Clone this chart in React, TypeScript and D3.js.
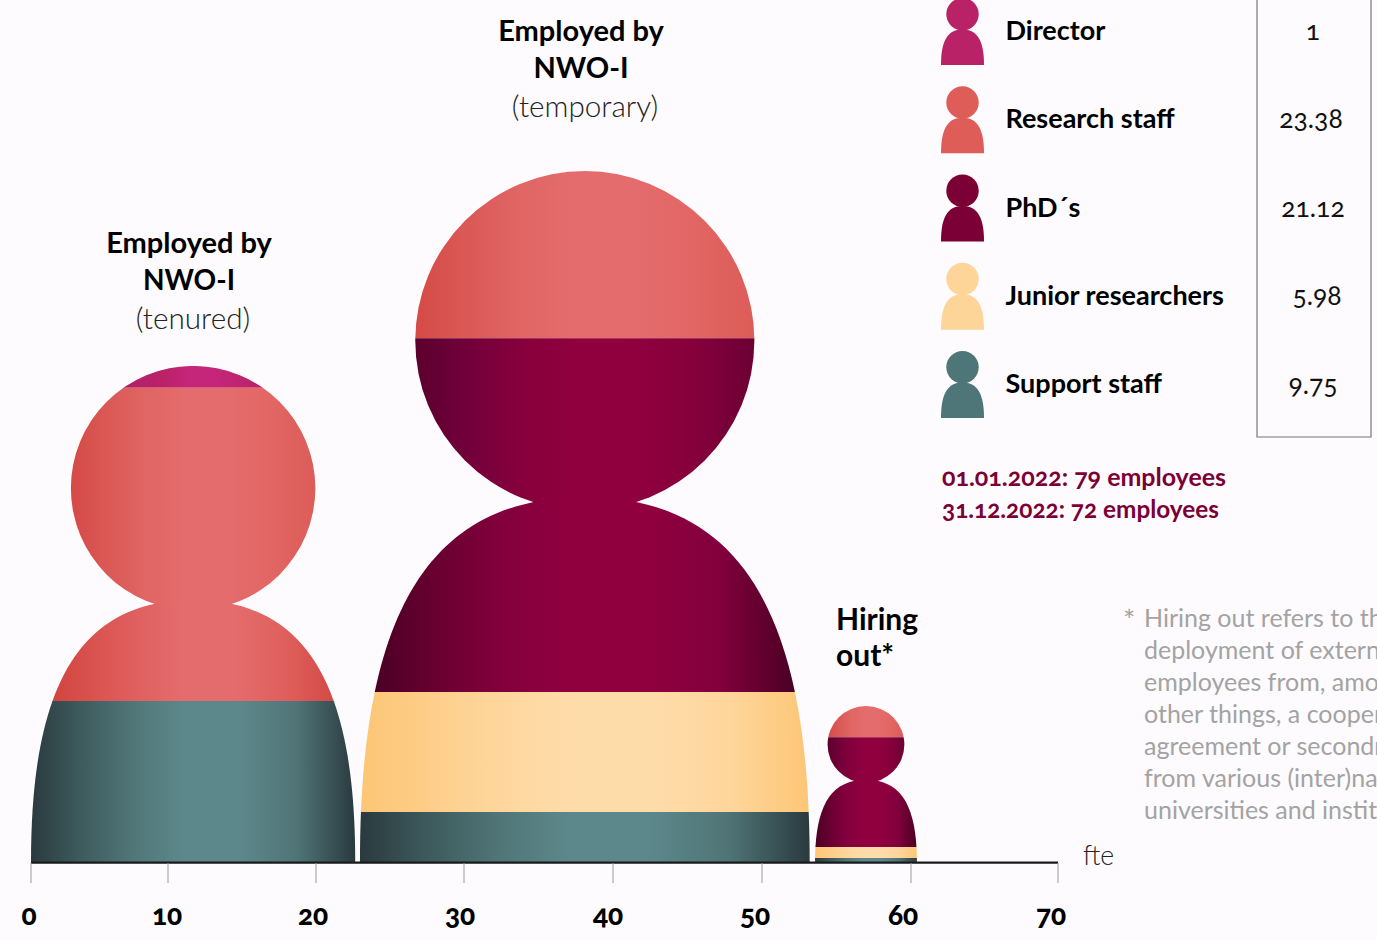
import React from "react";
import * as d3 from "d3";

const tickValues = [0, 10, 20, 30, 40, 50, 60, 70];
const roleNames = ["Director", "Research staff", "PhD´s", "Junior researchers", "Support staff"];
const roleTotals = ["1", "23.38", "21.12", "5.98", "9.75"];
const tenuredValues = [1, 14.3, 0, 0, 7.35];
const temporaryValues = [0, 7.63, 16.16, 5.48, 2.28];
const hiringValues = [0, 1.42, 5.02, 0.5, 0.18];
const personValues = [tenuredValues, temporaryValues, hiringValues];
const personStart = [0, 22.97, 53.56];
const personEnd = [22.65, 53.2, 60.4];
const footnoteLines = [
  "Hiring out refers to the",
  "deployment of external",
  "employees from, among",
  "other things, a cooperation",
  "agreement or secondment",
  "from various (inter)national",
  "universities and institutes",
];
const dateLines = ["01.01.2022: 79 employees", "31.12.2022: 72 employees"];

const legendColors = ["#b92266", "#df5d59", "#7b0035", "#fdd598", "#4e7577"];
const gradStops = [0, 0.14, 0.3, 0.47, 0.64, 0.82, 1];
const bodyColors = [
  ["#b01f60", "#b6216a", "#bb2268", "#c5267a", "#c5267a", "#bb2268", "#b01f60"],
  ["#d2443e", "#d9524f", "#df6060", "#e56c6d", "#e56c6d", "#df605e", "#d44a45"],
  ["#4a0024", "#680030", "#82003c", "#90003f", "#90003f", "#82003c", "#4a0024"],
  ["#fdc676", "#fdcd87", "#fed69c", "#fedcaa", "#fedcaa", "#fed69c", "#fdc676"],
  ["#2a3a3f", "#3c585a", "#4f7476", "#5d888b", "#5d888b", "#4f7476", "#2a3a3f"],
];
const headColors = [
  ["#b01f60", "#b6216a", "#bb2268", "#c5267a", "#c5267a", "#c02470", "#ba2268"],
  ["#d54a45", "#da5856", "#e06563", "#e56c6d", "#e56c6d", "#e26664", "#dc5c58"],
  ["#5c002d", "#70003a", "#85003c", "#90003f", "#90003f", "#86003c", "#6c0034"],
  ["#fdc676", "#fdcd87", "#fed69c", "#fedcaa", "#fedcaa", "#fed69c", "#fdc676"],
  ["#2a3a3f", "#3c585a", "#4f7476", "#5d888b", "#5d888b", "#4f7476", "#2a3a3f"],
];

const BASE = 862;
const x = d3.scaleLinear().domain(tickValues).range([31, 168, 316, 464, 613, 762, 911, 1058]);
const labelX = d3.scaleLinear().domain(tickValues).range([29, 167, 313, 460, 608, 755, 903, 1051]);
const y = d3.scaleLinear().domain([0, 10]).range([BASE, BASE - 219]);

const HEAD_R = 0.377;
const BODY_TOP = 0.472;
const C1Y = 0.66;
const C2X = 0.135;

function bez(t: number, a: number, b: number, c: number, d: number) {
  const u = 1 - t;
  return u * u * u * a + 3 * u * u * t * b + 3 * u * t * t * c + t * t * t * d;
}
// inset (fraction of the width) of the body at a height fraction from the top
function bodyInset(frac: number) {
  let lo = 0, hi = 1;
  for (let i = 0; i < 30; i++) {
    const m = (lo + hi) / 2;
    if (bez(m, 1, C1Y, BODY_TOP, BODY_TOP) > frac) lo = m;
    else hi = m;
  }
  return bez((lo + hi) / 2, 0, 0, C2X, 0.5);
}

function personPaths(x0: number, x1: number, h: number, base: number) {
  const w = x1 - x0;
  const top = base - h;
  const yt = top + BODY_TOP * h;
  const body = d3.path();
  body.moveTo(x0, base);
  body.bezierCurveTo(x0, top + C1Y * h, x0 + C2X * w, yt, x0 + 0.5 * w, yt);
  body.bezierCurveTo(x1 - C2X * w, yt, x1, top + C1Y * h, x1, base);
  body.closePath();
  const r = HEAD_R * w;
  const cx = x0 + w / 2;
  const head = d3.path();
  head.arc(cx, top + r, r, 0, 2 * Math.PI);
  return { body: body.toString(), head: head.toString(), r, cx, cy: top + r, yt, top };
}

function Gradient({ id, colors, a, b }: { id: string; colors: string[]; a: number; b: number }) {
  return (
    <linearGradient id={id} gradientUnits="userSpaceOnUse" x1={a} x2={b} y1={0} y2={0}>
      {gradStops.map((s, k) => (
        <stop key={k} offset={s} stopColor={colors[k]} />
      ))}
    </linearGradient>
  );
}

function Person({ index }: { index: number }) {
  const values = personValues[index];
  const x0 = x(personStart[index]);
  const x1 = x(personEnd[index]);
  const total = d3.sum(values);
  const h = BASE - y(total);
  const p = personPaths(x0, x1, h, BASE);
  const w = x1 - x0;
  let acc = total;
  const bands = values.map((v, i) => {
    const b = { i, yTop: y(acc), yBot: y(acc - v), v };
    acc -= v;
    return b;
  }).filter((b) => b.v > 0);
  return (
    <g>
      {bands.map((b) => {
        const idH = `h${index}-${b.i}`;
        const idB = `b${index}-${b.i}`;
        const idC = `c${index}-${b.i}`;
        const dy = b.yBot < p.cy ? p.cy - b.yBot : b.yTop > p.cy ? b.yTop - p.cy : 0;
        const chord = dy < p.r && b.yBot < p.cy - p.r * 0.5 ? Math.sqrt(p.r * p.r - dy * dy) : p.r;
        const inset = bodyInset((b.yBot - p.top) / h) * w;
        return (
          <g key={b.i}>
            <defs>
              <clipPath id={idC}>
                <rect x={x0 - 2} y={b.yTop} width={w + 4} height={b.yBot - b.yTop} />
              </clipPath>
              <Gradient id={idH} colors={headColors[b.i]} a={p.cx - chord} b={p.cx + chord} />
              <Gradient id={idB} colors={bodyColors[b.i]} a={x0 + inset} b={x1 - inset} />
            </defs>
            <g clipPath={`url(#${idC})`}>
              <path d={p.head} fill={`url(#${idH})`} />
              <path d={p.body} fill={`url(#${idB})`} />
            </g>
          </g>
        );
      })}
    </g>
  );
}

const BOLD: React.CSSProperties = { fontFamily: "Lato", fontWeight: 700 };
const LIGHT: React.CSSProperties = { fontFamily: "Lato", fontWeight: 300 };
const OLD: React.CSSProperties = { fontVariantNumeric: "oldstyle-nums", fontFeatureSettings: '"onum"' };
const totalLabelX = [1313, 1311, 1313, 1317, 1313];
const totalLabelY = [40, 128, 217, 305, 394];
const dateLength = [284, 277];

export default function App() {
  const legendStep = 88.25;
  const legendBase = 65;
  return (
    <svg width={1377} height={940} style={{ position: "absolute", left: 0, top: 0, background: "#fdfbfd" }}>
      {[0, 1, 2].map((i) => <Person key={i} index={i} />)}

      <line x1={x(0)} x2={x(70)} y1={862.6} y2={862.6} stroke="#1a1a1a" strokeWidth={2.2} />
      {tickValues.map((t) => (
        <g key={t}>
          <line x1={x(t)} x2={x(t)} y1={863} y2={883} stroke="#9a9a9a" strokeWidth={1} />
          <text x={labelX(t)} y={925} textAnchor="middle" style={{ ...BOLD, ...OLD, fontWeight: 900, fontSize: 28 }} fill="#000">{t}</text>
        </g>
      ))}
      <text x={1083} y={865} style={{ ...LIGHT, fontSize: 26.5 }} fill="#222">fte</text>

      <g style={{ ...BOLD, fontSize: 29 }} fill="#000" textAnchor="middle">
        <text x={189} y={253}>Employed by</text>
        <text x={189} y={290} fontSize={28}>NWO-I</text>
        <text x={581} y={41}>Employed by</text>
        <text x={581} y={78}>NWO-I</text>
      </g>
      <g style={{ ...LIGHT, fontSize: 29.7 }} fill="#222" textAnchor="middle">
        <text x={193} y={329}>(tenured)</text>
        <text x={585} y={117}>(temporary)</text>
      </g>
      <g style={{ ...BOLD, fontSize: 30 }} fill="#000">
        <text x={836} y={630}>Hiring</text>
        <text x={836} y={666}>out*</text>
      </g>

      {roleNames.map((name, i) => {
        const bottom = legendBase + legendStep * i;
        const icon = personPaths(941, 984, 67, bottom);
        return (
          <g key={name}>
            <path d={icon.head} fill={legendColors[i]} />
            <path d={icon.body} fill={legendColors[i]} />
            <text x={1005.5} y={bottom - 25} style={{ ...BOLD, fontSize: 27 }} fill="#000">{name}</text>
            <text x={totalLabelX[i]} y={totalLabelY[i]} textAnchor="middle" style={{ ...LIGHT, ...OLD, fontWeight: 400, fontSize: 26.5 }} fill="#111">{roleTotals[i]}</text>
          </g>
        );
      })}
      <path d="M1257,0V437H1371V0" fill="none" stroke="#777" strokeWidth={1.2} />

      <g style={{ ...BOLD, ...OLD, fontSize: 25 }} fill="#7b0035">
        {dateLines.map((d, i) => <text key={d} x={942} y={485.5 + 32 * i} textLength={dateLength[i]} lengthAdjust="spacingAndGlyphs">{d}</text>)}
      </g>

      <text x={1123} y={631} style={{ ...LIGHT, fontWeight: 400, fontSize: 29 }} fill="#a3a3a3">*</text>
      <g style={{ ...LIGHT, fontWeight: 400, fontSize: 25 }} fill="#a3a3a3">
        {footnoteLines.map((l, i) => <text key={i} x={1144} y={626.5 + 32 * i}>{l}</text>)}
      </g>
    </svg>
  );
}
